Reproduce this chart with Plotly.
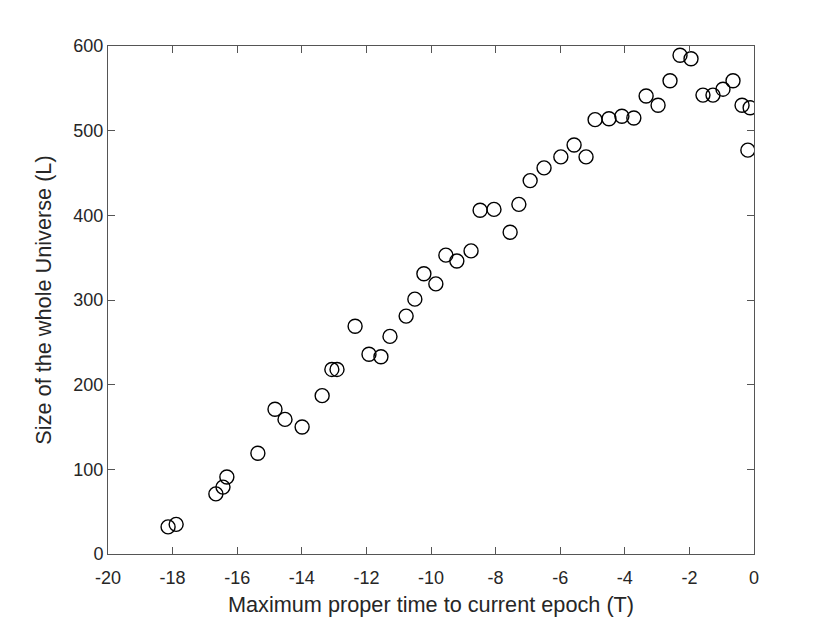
import plotly.graph_objects as go

# Maximum proper time to current epoch (T)
time_T = [-18.14, -17.89, -16.66, -16.44, -16.32, -15.36, -14.83, -14.52, -13.99,
          -13.37, -13.07, -12.91, -12.35, -11.92, -11.55, -11.27, -10.77, -10.50,
          -10.22, -9.85, -9.54, -9.20, -8.76, -8.48, -8.05, -7.55, -7.28, -6.93,
          -6.50, -5.98, -5.57, -5.20, -4.92, -4.49, -4.09, -3.72, -3.34, -2.97,
          -2.60, -2.29, -1.95, -1.58, -1.27, -0.96, -0.65, -0.37, -0.12, -0.19]

# Size of the whole Universe (L)
size_L = [32, 35, 71, 79, 91, 119, 171, 159, 150,
          187, 218, 218, 269, 236, 233, 257, 281, 301,
          331, 319, 353, 346, 358, 406, 407, 380, 413, 441,
          456, 469, 483, 469, 513, 514, 517, 515, 541, 530,
          559, 589, 585, 542, 542, 549, 559, 530, 527, 477]

x_ticks = [-20, -18, -16, -14, -12, -10, -8, -6, -4, -2, 0]
x_labels = ["-20", "-18", "-16", "-14", "-12", "-10", "-8", "-6", "-4", "-2", "0"]
y_ticks = [0, 100, 200, 300, 400, 500, 600]

fig = go.Figure(go.Scatter(
    x=time_T, y=size_L, mode="markers",
    marker=dict(symbol="circle-open", size=14, color="black", line=dict(width=1.4)),
))

axis_style = dict(
    showline=True, linecolor="#555555", linewidth=1, mirror="ticks",
    ticks="inside", ticklen=7, tickcolor="#555555", tickwidth=1,
    showgrid=False, zeroline=False,
    tickfont=dict(size=18, color="#262626"),
)

# page body adds 8px, so margins are shifted by that
fig.update_layout(
    width=830, height=623,
    margin=dict(l=100, r=84, t=38, b=77),
    plot_bgcolor="white", paper_bgcolor="white",
    font=dict(family="Liberation Sans, Arial, sans-serif", color="#262626"),
    showlegend=False,
    xaxis=dict(range=[-20, 0], tickvals=x_ticks, ticktext=x_labels, ticklabelstandoff=7,
               title=dict(text="Maximum proper time to current epoch (T)",
                          font=dict(size=21.7), standoff=10),
               **axis_style),
    yaxis=dict(range=[0, 600], tickvals=y_ticks,
               title=dict(text="Size of the whole Universe (L)",
                          font=dict(size=21.7), standoff=15),
               **axis_style),
)

fig.write_html("out.html")
